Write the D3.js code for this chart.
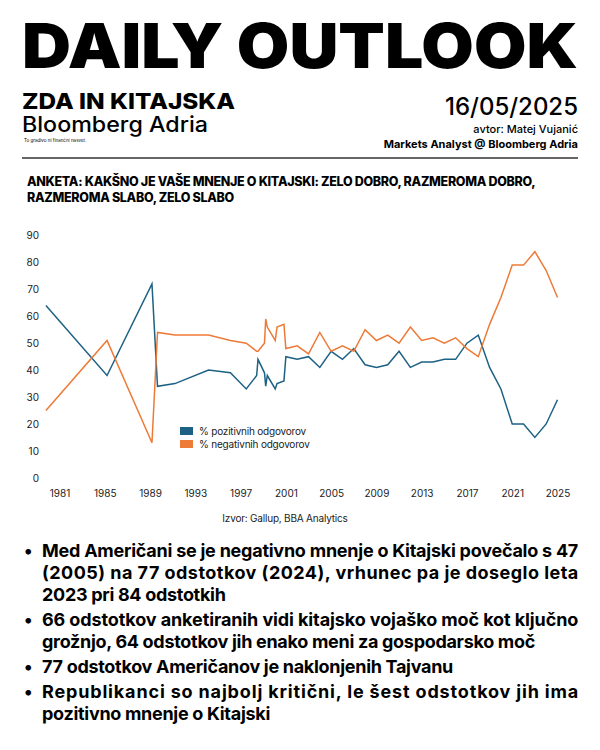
<!DOCTYPE html>
<html lang="sl">
<head>
<meta charset="UTF-8">
<title>Daily Outlook - ZDA in Kitajska</title>
<script src="https://cdnjs.cloudflare.com/ajax/libs/d3/7.8.5/d3.min.js"></script>
<style>
  body { margin: 0; background: #fff; }
  svg { display: block; font-family: Inter, "Liberation Sans", sans-serif; }
</style>
</head>
<body>
<svg id="page" width="600" height="750"></svg>
<script>
// Gallup: mnenje Američanov o Kitajski (v %)
const years = [1979.8, 1985.2, 1989.17, 1989.66, 1991.2, 1994.17, 1996.1, 1997.5, 1998.42, 1998.54,
  1999.11, 1999.22, 1999.36, 2000.06, 2000.22, 2000.83, 2001, 2002, 2003, 2004, 2005, 2006, 2007,
  2008, 2009, 2010, 2011, 2012, 2013, 2014, 2015, 2016, 2017, 2018, 2019, 2020, 2021, 2022, 2023, 2024, 2025];
const positive = [64, 38, 72, 34, 35, 40, 39, 33, 38, 44, 39, 34, 38, 33, 35, 36, 45, 44, 45, 41, 47, 44, 48,
  42, 41, 42, 47, 41, 43, 43, 44, 44, 50, 53, 41, 33, 20, 20, 15, 20, 29];
const negative = [25, 51, 13, 54, 53, 53, 51, 50, 47, 47, 50, 59, 56, 51, 56, 57, 48, 49, 46, 54, 47, 49, 47,
  55, 51, 53, 50, 56, 51, 52, 50, 52, 48, 45, 57, 67, 79, 79, 84, 77, 67];

const xTicks = [1981, 1985, 1989, 1993, 1997, 2001, 2005, 2009, 2013, 2017, 2021, 2025];
const yTicks = [0, 10, 20, 30, 40, 50, 60, 70, 80, 90];

const seriesNames = ["% pozitivnih odgovorov", "% negativnih odgovorov"];
const seriesColors = ["#1d6184", "#ee7a37"];

const bullets = [
  ["Med Američani se je negativno mnenje o Kitajski povečalo s 47",
   "(2005) na 77 odstotkov (2024), vrhunec pa je doseglo leta",
   "2023 pri 84 odstotkih"],
  ["66 odstotkov anketiranih vidi kitajsko vojaško moč kot ključno",
   "grožnjo, 64 odstotkov jih enako meni za gospodarsko moč"],
  ["77 odstotkov Američanov je naklonjenih Tajvanu"],
  ["Republikanci so najbolj kritični, le šest odstotkov jih ima",
   "pozitivno mnenje o Kitajski"]
];

const svg = d3.select("#page");

// ---- header ----
svg.append("text").attr("x", 22).attr("y", 68)
  .attr("font-size", 62).attr("font-weight", 900)
  .attr("textLength", 556).attr("lengthAdjust", "spacingAndGlyphs")
  .text("DAILY OUTLOOK");

svg.append("text").attr("x", 22).attr("y", 109)
  .attr("font-size", 22).attr("font-weight", 800)
  .attr("textLength", 213).attr("lengthAdjust", "spacingAndGlyphs")
  .text("ZDA IN KITAJSKA");

svg.append("text").attr("x", 22).attr("y", 132)
  .attr("font-size", 21).attr("font-weight", 500)
  .attr("textLength", 186).attr("lengthAdjust", "spacingAndGlyphs")
  .text("Bloomberg Adria");

svg.append("text").attr("x", 24).attr("y", 142)
  .attr("font-size", 4.5)
  .text("To gradivo ni finančni nasvet.");

svg.append("text").attr("x", 578).attr("y", 115).attr("text-anchor", "end")
  .attr("font-size", 24).attr("font-weight", 500)
  .text("16/05/2025");

svg.append("text").attr("x", 578).attr("y", 133).attr("text-anchor", "end")
  .attr("font-size", 11).attr("font-weight", 500)
  .text("avtor: Matej Vujanić");

svg.append("text").attr("x", 578).attr("y", 148).attr("text-anchor", "end")
  .attr("font-size", 11).attr("font-weight", 700)
  .text("Markets Analyst @ Bloomberg Adria");

svg.append("line").attr("x1", 22).attr("x2", 578).attr("y1", 158).attr("y2", 158)
  .attr("stroke", "#333").attr("stroke-width", 1.5);

svg.append("text").attr("x", 27).attr("y", 186)
  .attr("font-size", 12.5).attr("font-weight", 800).attr("letter-spacing", -0.3)
  .text("ANKETA: KAKŠNO JE VAŠE MNENJE O KITAJSKI: ZELO DOBRO, RAZMEROMA DOBRO,");
svg.append("text").attr("x", 27).attr("y", 202)
  .attr("font-size", 12.5).attr("font-weight", 800).attr("letter-spacing", -0.3)
  .text("RAZMEROMA SLABO, ZELO SLABO");

// ---- chart ----
const x = d3.scaleLinear().domain([1981, 2025]).range([59.5, 557.5]);
const y = d3.scaleLinear().domain([0, 90]).range([477.8, 235.5]);

const yAxis = svg.append("g").attr("transform", "translate(39,0)")
  .call(d3.axisLeft(y).tickValues(yTicks).tickSize(0).tickPadding(0));
const xAxis = svg.append("g").attr("transform", "translate(0,490)")
  .call(d3.axisBottom(x).tickValues(xTicks).tickFormat(d3.format("d")).tickSize(0).tickPadding(0));
[yAxis, xAxis].forEach(a => {
  a.select(".domain").remove();
  a.selectAll("text").attr("font-family", "Inter, sans-serif").attr("font-size", 10).attr("fill", "#222");
});

const line = d3.line().x(d => x(d[0])).y(d => y(d[1]));
[positive, negative].forEach((vals, i) => {
  svg.append("path")
    .datum(years.map((yr, j) => [yr, vals[j]]))
    .attr("d", line)
    .attr("fill", "none")
    .attr("stroke", seriesColors[i])
    .attr("stroke-width", 1.5)
    .attr("stroke-linejoin", "miter");
});

// legend
const legend = svg.append("g").attr("transform", "translate(180,427)");
seriesNames.forEach((name, i) => {
  legend.append("rect").attr("x", 0).attr("y", i * 13).attr("width", 13).attr("height", 8)
    .attr("fill", seriesColors[i]);
  legend.append("text").attr("x", 19).attr("y", i * 13 + 8)
    .attr("font-size", 10).attr("fill", "#222").attr("letter-spacing", -0.2)
    .text(name);
});

svg.append("text").attr("x", 285).attr("y", 522).attr("text-anchor", "middle")
  .attr("font-size", 10).attr("fill", "#222").attr("letter-spacing", -0.2)
  .text("Izvor: Gallup, BBA Analytics");

// ---- bullets ----
let by = 557;
const lineH = 22, gap = 3;
bullets.forEach(lines => {
  svg.append("text").attr("x", 24).attr("y", by).attr("font-size", 18).attr("font-weight", 700).text("•");
  lines.forEach((t, k) => {
    const el = svg.append("text").attr("x", 42).attr("y", by + k * lineH)
      .attr("font-size", 18).attr("font-weight", 700).attr("letter-spacing", -0.3)
      .text(t);
    if (k < lines.length - 1) el.attr("textLength", 536).attr("lengthAdjust", "spacing");
  });
  by += lines.length * lineH + gap;
});
</script>
</body>
</html>
